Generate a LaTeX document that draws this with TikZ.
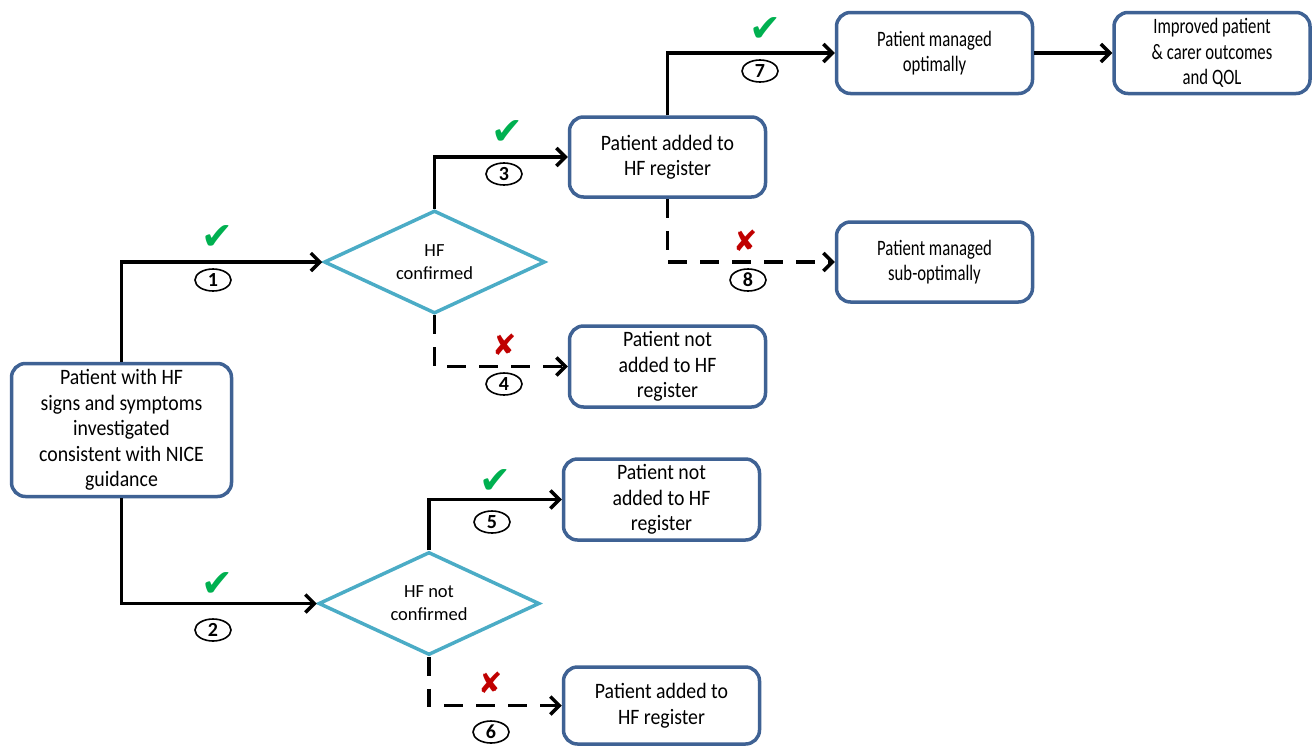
\documentclass[tikz,border=0pt]{standalone}
\usepackage{fontspec}
\setmainfont{Carlito}
\newfontfamily\boxfont[FakeStretch=0.9]{Carlito}
\newfontfamily\condfont[FakeStretch=0.76]{Carlito}
\newfontfamily\symfont{DejaVu Sans}
\usetikzlibrary{shapes.geometric,arrows.meta}
\definecolor{boxblue}{HTML}{3F6294}
\definecolor{diacyan}{HTML}{4BACC6}
\definecolor{okgreen}{HTML}{00B050}
\definecolor{nored}{HTML}{C00000}
\tikzset{
  box/.style={draw=boxblue, line width=3.5pt, rounded corners=14pt, fill=white, align=center, inner sep=0pt,
    minimum width=196pt, minimum height=80pt, font=\fontsize{22}{25.5}\boxfont},
  condbox/.style={box, font=\fontsize{22}{25.5}\condfont},
  dia/.style={draw=diacyan, line width=3.5pt, shape=diamond, aspect=2.15, inner sep=0pt, align=center,
    minimum width=221pt, minimum height=103pt, font=\fontsize{18.5}{23}\selectfont},
  conn/.style={line width=3.5pt, -{Straight Barb[length=9pt,width=18pt,line width=3.5pt]}},
  dconn/.style={conn, dash pattern=on 19pt off 13pt},
  num/.style={draw, ellipse, line width=1.6pt, minimum width=36pt, minimum height=22pt, inner sep=0pt,
    font=\fontsize{20}{20}\bfseries\selectfont},
  ok/.style={text=okgreen, inner sep=0pt, font=\fontsize{38}{38}\symfont},
  no/.style={text=nored, inner sep=0pt, font=\fontsize{29}{29}\symfont},
}
\begin{document}
\begin{tikzpicture}[x=1pt,y=-1pt]
\useasboundingbox (0,0) rectangle (1313,747);
% nodes
\node[box, minimum width=220pt, minimum height=133pt] (start) at (121.5,430) {Patient  with HF\\signs and symptoms\\investigated\\consistent with NICE\\guidance};
\node[dia] (d1) at (434.5,262) {HF\\confirmed};
\node[dia] (d2) at (429,603.5) {HF  not\\confirmed};
\node[box] (b3) at (667.5,157) {Patient added to\\HF register};
\node[box, minimum height=81pt] (b4) at (667.5,366.5) {Patient  not\\added to HF\\register};
\node[condbox, minimum height=81pt] (b7) at (934.5,53) {Patient managed\\optimally};
\node[condbox, minimum height=81pt] (b9) at (1212,53) {Improved  patient\\\& carer outcomes\\and QOL};
\node[condbox] (b8) at (934.5,262) {Patient managed\\sub-optimally};
\node[box, minimum height=81pt] (b5) at (661.5,499.5) {Patient  not\\added to HF\\register};
\node[box, minimum height=77pt] (b6) at (661.5,705.5) {Patient added to\\HF register};
% connectors
\draw[conn] (start.north) |- (d1.west);
\draw[conn] (start.south) |- (d2.west);
\draw[conn] (d1.north) |- (b3.west);
\draw[dconn] (d1.south) |- (b4.west);
\draw[conn] (b3.north) |- (b7.west);
\draw[dconn] (b3.south) |- (b8.west);
\draw[conn] (d2.north) |- (b5.west);
\draw[dconn] (d2.south) |- (b6.west);
\draw[conn] (b7.east) -- (b9.west);
% labels
\node[ok] (k1) at (217,238) {✔};
\node[num] (n1) at (213,280) {1};
\node[ok] (k2) at (217,585) {✔};
\node[num] (n2) at (213,630) {2};
\node[ok] (k3) at (507,133) {✔};
\node[num] (n3) at (504,174) {3};
\node[no] (x4) at (505,345) {✘};
\node[num] (n4) at (504,384) {4};
\node[ok] (k5) at (495,482) {✔};
\node[num] (n5) at (492,522) {5};
\node[no] (x6) at (491,683) {✘};
\node[num] (n6) at (491,732) {6};
\node[ok] (k7) at (765,30) {✔};
\node[num] (n7) at (760,71) {7};
\node[no] (x8) at (746,241) {✘};
\node[num] (n8) at (748,280) {8};
\end{tikzpicture}
\end{document}
